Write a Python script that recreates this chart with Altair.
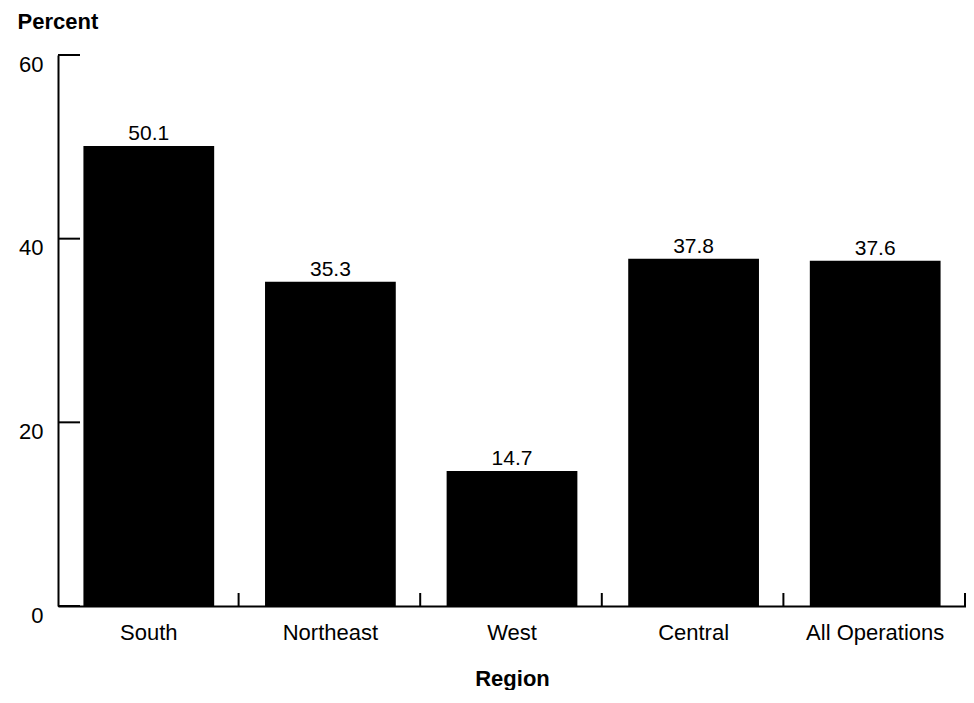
import altair as alt
import pandas as pd

regions = ["South", "Northeast", "West", "Central", "All Operations"]
percents = [50.1, 35.3, 14.7, 37.8, 37.6]
y_ticks = [0, 20, 40, 60]

df = pd.DataFrame({"region": regions, "percent": percents})
ticks_df = pd.DataFrame({"v": y_ticks})

FONT = "Liberation Sans"
W, H = 908, 551
step = W / len(regions)

x_enc = alt.X(
    "region:N",
    sort=regions,
    scale=alt.Scale(paddingInner=0.28, paddingOuter=0.14),
    axis=alt.Axis(
        title="Region",
        labelAngle=0,
        ticks=False,
        labelPadding=33,
        labelBaseline="alphabetic",
        labelFontSize=22,
        labelFont=FONT,
        labelColor="black",
        titleFont=FONT,
        titleFontSize=22,
        titleFontWeight="bold",
        titleColor="black",
        titleY=79,
        titleBaseline="alphabetic",
        domainColor="black",
        domainWidth=2,
    ),
)

y_enc = alt.Y(
    "percent:Q",
    scale=alt.Scale(domain=[0, 60]),
    axis=alt.Axis(
        title="Percent",
        values=y_ticks,
        ticks=False,
        grid=False,
        labelPadding=15,
        labelOffset=9,
        labelBaseline="middle",
        labelFontSize=22,
        labelFont=FONT,
        labelColor="black",
        titleFont=FONT,
        titleFontSize=22,
        titleFontWeight="bold",
        titleColor="black",
        titleAngle=0,
        titleAlign="left",
        titleBaseline="alphabetic",
        titleX=-41,
        titleY=-27,
        domainColor="black",
        domainWidth=2,
    ),
)

bars = alt.Chart(df).mark_bar(color="black").encode(x=x_enc, y=y_enc)

labels = alt.Chart(df).mark_text(
    dy=-6, baseline="alphabetic", fontSize=21, font=FONT, color="black"
).encode(
    x=alt.X("region:N", sort=regions),
    y=alt.Y("percent:Q"),
    text=alt.Text("percent:Q", format=".1f"),
)

xticks = alt.Chart(df).mark_rule(color="black", strokeWidth=2, xOffset=step / 2 - 1).encode(
    x=alt.X("region:N", sort=regions),
    y=alt.value(H - 13),
    y2=alt.value(H),
)

yticks = alt.Chart(ticks_df).mark_rule(color="black", strokeWidth=2).encode(
    y=alt.Y("v:Q"),
    x=alt.value(0),
    x2=alt.value(22),
)

chart = (
    alt.layer(bars, labels, xticks, yticks)
    .properties(
        width=W,
        height=H,
        autosize="none",
        padding={"left": 50, "top": 47, "right": 0, "bottom": 84},
    )
    .configure_view(stroke=None)
    .configure_axis(grid=False)
)

chart.save("out.html", embed_options={"renderer": "svg", "actions": False})
